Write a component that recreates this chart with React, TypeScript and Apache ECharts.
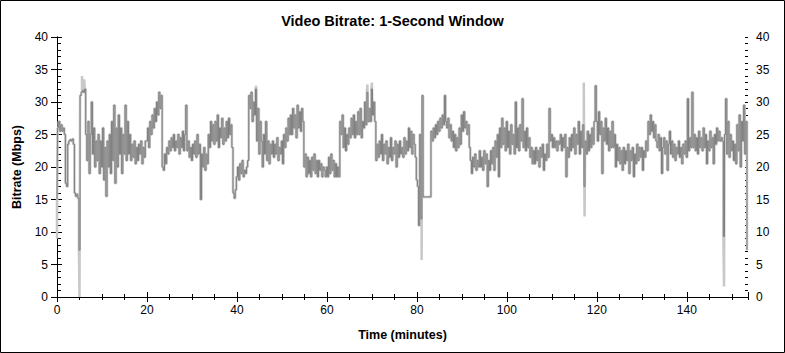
import React, { useEffect, useRef } from "react";
import * as echarts from "echarts";

// Sample spacing (minutes) of the bitrate values below
const STEP = 0.25;

// Bitrate (Mbps), one value per 0.25 minute, in 20-minute blocks
const seg0_19 = [
  15, 26, 27, 25.5, 26.5, 25.5, 26, 25, 17.5, 17, 23.5, 24, 24.2, 24, 24.3, 23.5,
  16, 15.5, 15.8, 15.2, 7.2, 31, 31.5, 31.8, 31.5, 32, 25, 21, 27, 19, 25, 30,
  22, 26, 20, 24, 21, 25, 19, 24, 20, 26, 18, 23, 15.5, 24, 20, 25,
  19, 27, 21, 29.5, 17.5, 26, 20, 28, 22, 26, 19, 25, 22, 29.5, 21, 27,
  22, 25, 21, 23.5, 21.5, 24, 20.5, 23, 21, 23.5, 22, 24, 20.5, 23, 21.5, 24,
];
const seg20_39 = [
  24, 26, 23, 27, 25, 28, 26, 29, 27, 30, 28, 31.5, 29, 31, 20, 19.5,
  22, 20.5, 23, 22, 24, 22.5, 24.5, 23, 25, 22.5, 24, 23, 25, 22, 24.5, 23,
  25.5, 22.5, 25, 29.5, 22.5, 24, 21.5, 23, 21, 23.5, 22, 24, 21.5, 25, 22, 23.5,
  15, 22, 20, 23, 19.5, 22, 20.5, 25, 23, 27, 24, 26.5, 23.5, 27, 24, 28,
  23, 26, 24.5, 27.5, 23.5, 26, 24, 27, 24.5, 27.5, 25, 26.5, 23, 16, 15.2, 16.5,
];
const seg40_59 = [
  18.5, 20, 18, 20.5, 19, 21, 18.5, 19.5, 19, 20, 21, 31, 29, 31.5, 27, 30,
  28, 32, 24, 29, 22, 27, 24, 20, 25, 22, 27, 21, 24, 20.5, 23.5, 22,
  24, 21.5, 23.5, 22, 24.5, 21, 23, 22, 24, 20.5, 25, 23, 26, 24, 27.5, 25,
  28, 25, 29, 26, 28, 24.5, 29.5, 26, 28.5, 25.5, 29, 27, 20, 22, 18.5, 21.5,
  19, 21, 18.5, 21.5, 19.5, 22, 19, 21, 18.5, 21, 19.5, 20.5, 18.5, 20, 19.5, 18.5,
];
const seg60_79 = [
  20, 18.5, 21.5, 19, 22, 19.5, 21, 18.5, 20.5, 18.5, 20, 18.5, 27, 25, 28, 23,
  26, 22.5, 25, 23.5, 26, 24.5, 27.5, 25, 28, 24.5, 27, 25, 28.5, 25, 29, 24.5,
  27, 26, 30, 26.5, 31.5, 27, 29, 27, 32, 28, 30, 27, 21, 23.5, 21.5, 24,
  22, 25, 21, 23.5, 22, 24, 20.5, 23, 21.5, 24.5, 21, 23, 22, 24, 20, 23.5,
  21.5, 24, 22, 23, 21.5, 24.5, 22, 24, 22.5, 26, 23, 25.5, 22, 25, 23.5, 21.5,
];
const seg80_99 = [
  18, 17, 11, 25, 12, 31, 15.4, 15.4, 15.4, 15.4, 15.4, 15.4, 15.4, 25.5, 24, 26,
  24.5, 26.5, 25, 27, 25.5, 27.5, 26, 28, 26.5, 31, 27, 26, 27.5, 24.5, 26.5, 24,
  25.5, 23, 25, 22.5, 24.5, 23, 26, 23.5, 28, 25.5, 28.5, 26, 27, 25, 26.5, 23,
  21, 19, 21.5, 20, 22, 19.5, 21, 20, 22.5, 20, 21.5, 19.5, 22.5, 20.5, 22, 17,
  21, 19.5, 22.5, 20.5, 23, 19.5, 24, 21.5, 25, 18.5, 26, 23, 27.5, 23.5, 26, 22.5,
];
const seg100_119 = [
  27, 23, 25.5, 22, 26.5, 23.5, 25, 22, 30, 23, 26, 22.5, 26.5, 24, 30.5, 23,
  25.5, 22.5, 26, 23, 24.5, 21.5, 23, 20.5, 22.5, 20.5, 23, 21, 22.5, 20, 23, 21.5,
  23.5, 19.5, 22, 21, 23.5, 21.5, 29, 24, 25, 23, 24.5, 23, 24, 22.5, 24, 23.5,
  25, 22.5, 24.5, 23, 25, 18.5, 23, 21.5, 24.5, 22.5, 25, 23, 26, 22, 25, 23.5,
  27, 22, 25.5, 23, 26.5, 17, 24, 22, 25.5, 22.5, 25, 23, 26, 23.5, 27, 32.5,
];
const seg120_139 = [
  27, 24, 28.5, 25, 27, 19, 26, 24, 27.5, 23.5, 26, 22.5, 25.5, 23, 27, 23,
  25, 20, 23.5, 21, 23, 20.5, 22.5, 19.5, 23, 20.5, 22.5, 21, 23.5, 19, 22.5, 21,
  23, 18.5, 22, 20.5, 23.5, 21, 23, 21.5, 23, 19.5, 22.5, 21.5, 24, 22.5, 27, 25,
  28, 25.5, 27, 24.5, 26.5, 24, 23, 25, 22.5, 24.5, 19, 23, 24.5, 22, 24, 19.5,
  23.5, 25.5, 22, 24, 21.5, 23.5, 21, 23, 22, 24, 21.5, 23, 20.5, 23.5, 22, 24,
];
const seg140_153 = [
  21.5, 30.5, 22.5, 24.5, 23, 31.5, 23, 25, 22.5, 24.5, 22, 25.5, 23, 24.5, 22.5, 26,
  23, 25, 20.5, 24, 22.5, 25.5, 23, 24.5, 20.5, 25, 23.5, 26, 24, 25.5, 24, 24.5,
  24, 9.3, 25, 30.5, 22, 27, 21.5, 25, 22.5, 24, 21, 23.5, 20.5, 26.5, 22.5, 28,
  20, 27, 24, 29.5, 22, 27, 7.2,
];

// Light-gray peaks/dips visible around the main trace: [minute, Mbps]
const lightSpikes: [number, number][] = [
  [0, 9], [5, 0], [5.6, 34], [6.1, 33.5], [44.3, 32.5], [69, 32.7], [70, 33],
  [81.1, 5.7], [117.2, 33], [117.3, 12.4], [148.3, 1.6],
];

// Axis settings
const X_MAX = 153.6;
const X_TICK = 20;
const X_MINOR = 5;
const Y_MAX = 40;
const Y_TICK = 5;
const Y_MINOR = 1;

const TITLE = "Video Bitrate: 1-Second Window";
const X_NAME = "Time (minutes)";
const Y_NAME = "Bitrate (Mbps)";

const FONT = "'Liberation Sans', Arial, sans-serif";

export default function App() {
  const ref = useRef<HTMLDivElement>(null);

  useEffect(() => {
    if (!ref.current) return;
    const chart = echarts.init(ref.current, null, { renderer: "svg" });

    const values = [
      ...seg0_19, ...seg20_39, ...seg40_59, ...seg60_79,
      ...seg80_99, ...seg100_119, ...seg120_139, ...seg140_153,
    ];
    const dark = values.map((v, i) => [i * STEP, v]);
    const light = [...dark, ...lightSpikes].sort((a, b) => a[0] - b[0]);

    const lineBlack = { lineStyle: { color: "#000", width: 1 } };
    const xBase = { type: "value" as const, min: 0, max: X_MAX, splitLine: { show: false } };
    const yBase = { type: "value" as const, min: 0, max: Y_MAX, splitLine: { show: false } };
    const labelStyle = { color: "#000", fontSize: 12, fontFamily: FONT };

    chart.setOption({
      animation: false,
      backgroundColor: "#fff",
      title: {
        text: TITLE,
        left: "center",
        top: 8,
        textStyle: { fontSize: 14.5, fontWeight: "bold", color: "#000", fontFamily: FONT },
      },
      grid: { left: 57, right: 37, top: 37, bottom: 56, containLabel: false },
      xAxis: [
        {
          ...xBase, position: "bottom", interval: X_TICK,
          axisLine: { show: true, ...lineBlack },
          axisTick: { show: true, inside: false, length: 5, ...lineBlack },
          axisLabel: { ...labelStyle, margin: 7, showMaxLabel: false },
          name: X_NAME, nameLocation: "middle", nameGap: 31,
          nameTextStyle: { ...labelStyle, fontSize: 12.5, fontWeight: "bold" },
        },
        {
          ...xBase, position: "bottom", interval: X_TICK,
          axisLine: { show: false },
          axisTick: { show: true, inside: true, length: 5, ...lineBlack },
          axisLabel: { show: false },
        },
        {
          ...xBase, position: "bottom", interval: X_MINOR,
          axisLine: { show: false },
          axisTick: { show: true, inside: true, length: 3, ...lineBlack },
          axisLabel: { show: false },
        },
        {
          ...xBase, position: "top", interval: X_MINOR,
          axisLine: { show: true, ...lineBlack },
          axisTick: { show: true, inside: true, length: 3, ...lineBlack },
          axisLabel: { show: false },
        },
      ],
      yAxis: [
        {
          ...yBase, position: "left", interval: Y_TICK,
          axisLine: { show: true, ...lineBlack },
          axisTick: { show: true, inside: false, length: 6, ...lineBlack },
          axisLabel: { ...labelStyle, margin: 9 },
          name: Y_NAME, nameLocation: "middle", nameGap: 33, nameRotate: 90,
          nameTextStyle: { ...labelStyle, fontSize: 12.5, fontWeight: "bold" },
        },
        {
          ...yBase, position: "left", interval: Y_TICK,
          axisLine: { show: false },
          axisTick: { show: true, inside: true, length: 5, ...lineBlack },
          axisLabel: { show: false },
        },
        {
          ...yBase, position: "left", interval: Y_MINOR,
          axisLine: { show: false },
          axisTick: { show: true, inside: true, length: 4, ...lineBlack },
          axisLabel: { show: false },
        },
        {
          ...yBase, position: "right", interval: Y_TICK,
          axisLine: { show: true, ...lineBlack },
          axisTick: { show: true, inside: false, length: 5, ...lineBlack },
          axisLabel: { ...labelStyle, margin: 8 },
        },
        {
          ...yBase, position: "right", interval: Y_TICK,
          axisLine: { show: false },
          axisTick: { show: true, inside: true, length: 3, ...lineBlack },
          axisLabel: { show: false },
        },
        {
          ...yBase, position: "right", interval: Y_MINOR,
          axisLine: { show: false },
          axisTick: { show: true, inside: true, length: 3, ...lineBlack },
          axisLabel: { show: false },
        },
      ],
      series: [
        {
          type: "line", xAxisIndex: 0, yAxisIndex: 0, data: light, step: "middle",
          showSymbol: false, symbol: "none", silent: true,
          lineStyle: { color: "#c8c8c8", width: 2.5 },
        },
        {
          type: "line", xAxisIndex: 0, yAxisIndex: 0, data: dark, step: "middle",
          showSymbol: false, symbol: "none", silent: true,
          lineStyle: { color: "#7f7f7f", width: 1 },
        },
      ],
      graphic: [
        {
          type: "rect", silent: true, z: 100,
          shape: { x: 0.5, y: 0.5, width: 784, height: 352 },
          style: { fill: "none", stroke: "#000", lineWidth: 1 },
        },
      ],
    });

    return () => chart.dispose();
  }, []);

  return (
    <div
      ref={ref}
      style={{ position: "fixed", left: 0, top: 0, width: 785, height: 353, background: "#fff" }}
    />
  );
}
